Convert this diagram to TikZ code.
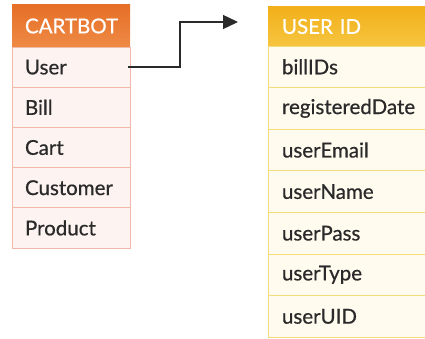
\documentclass[tikz,border=0pt]{standalone}
\usepackage{fontspec}
\setmainfont{Lato}[FakeBold=0.6]
\usetikzlibrary{arrows.meta}
\definecolor{orhdtop}{HTML}{E66F27}
\definecolor{orhdbot}{HTML}{EE8A45}
\definecolor{yehdtop}{HTML}{F2B01A}
\definecolor{yehdbot}{HTML}{F6C540}
\definecolor{orrow}{HTML}{FDF3F0}
\definecolor{orline}{HTML}{F2B9AA}
\definecolor{yerow}{HTML}{FFFBEE}
\definecolor{yeline}{HTML}{F3DC7C}
\definecolor{txt}{HTML}{2A2A2A}
\tikzset{
  cell/.style={anchor=north west, inner xsep=13pt, inner ysep=0pt, outer sep=0pt,
    text=txt, font=\fontsize{20.5}{22}\selectfont, align=left},
  lcell/.style={cell, draw=orline, fill=orrow, line width=0.8pt,
    minimum width=118pt, minimum height=40.2pt, text width=92pt},
  lhead/.style={cell, top color=orhdtop, bottom color=orhdbot, draw=none,
    minimum width=118pt, minimum height=42pt, text width=92pt, text=white},
  rcell/.style={cell, draw=yeline, fill=yerow, line width=0.8pt, inner xsep=14pt,
    minimum width=170pt, minimum height=41.6pt, text width=142pt},
  rhead/.style={cell, top color=yehdtop, bottom color=yehdbot, draw=none, inner xsep=14pt,
    minimum width=170pt, minimum height=39pt, text width=142pt, text=white},
  link/.style={draw=txt, line width=1.4pt, -{Triangle[length=15pt,width=14pt]}}
}
\begin{document}
\begin{tikzpicture}[x=1pt,y=-1pt]
\useasboundingbox (0,0) rectangle (425,339);
\begin{scope}
\clip (0,0) rectangle (425,339);
% left table
\node[lhead] (cartbot) at (12,5) {CARTBOT};
\node[lcell] (User) at (12,47) {User};
\node[lcell] (Bill) at (12,87.2) {Bill};
\node[lcell] (Cart) at (12,127.4) {Cart};
\node[lcell] (Customer) at (12,167.6) {Customer};
\node[lcell] (Product) at (12,207.8) {Product};
% right table
\node[rhead] (userid) at (268,7) {USER ID};
\node[rcell] (billIDs) at (268,46) {billIDs};
\node[rcell] (registeredDate) at (268,87.6) {registeredDate};
\node[rcell] (userEmail) at (268,129.2) {userEmail};
\node[rcell] (userName) at (268,170.8) {userName};
\node[rcell] (userPass) at (268,212.4) {userPass};
\node[rcell] (userType) at (268,254) {userType};
\node[rcell] (userUID) at (268,295.6) {userUID};
\end{scope}
% connector
\coordinate (tip) at (238,22);
\draw[link] ([xshift=-2pt]User.east) -- ++(52,0) |- (tip);
\end{tikzpicture}
\end{document}
